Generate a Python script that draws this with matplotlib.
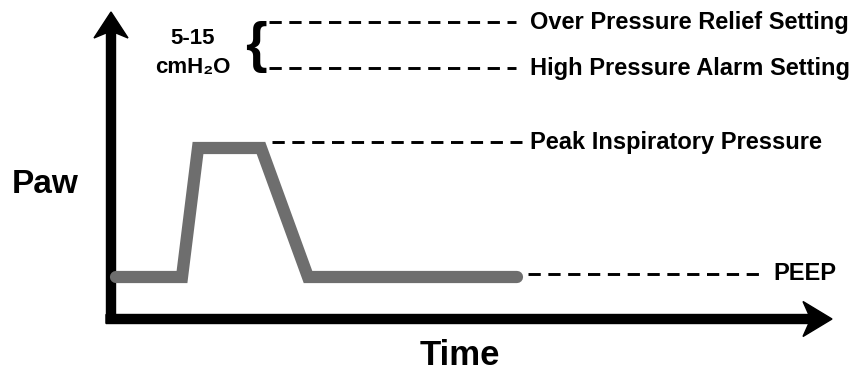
import matplotlib
matplotlib.use("Agg")
import matplotlib.pyplot as plt

# schematic airway pressure waveform (x = time units, y = pressure units, y up)
wave_t = [116, 182, 198, 261, 308, 517]
wave_p = [96, 96, 225, 225, 96, 96]

# reference levels and their labels
level_names = ["Over Pressure Relief Setting", "High Pressure Alarm Setting",
               "Peak Inspiratory Pressure", "PEEP"]
level_p = [351, 305, 231, 99]
level_start = [269, 269, 272, 528]
level_end = [516, 516, 522, 763]
level_text_x = [530, 530, 530, 773]

range_top = "5-15"
range_unit = "cmH\u2082O"

FONT = ["Liberation Sans", "DejaVu Sans"]

fig = plt.figure(figsize=(8.55, 3.73), dpi=100)
ax = fig.add_axes([0, 0, 1, 1])
ax.set_xlim(0, 855)
ax.set_ylim(0, 373)
ax.axis("off")

# axes arrows
ax.arrow(111, 50, 0, 311, width=9, head_width=34, head_length=26, overhang=0.2,
         length_includes_head=True, fc="black", ec="black")
ax.arrow(106, 54, 726, 0, width=9, head_width=35, head_length=29, overhang=0.2,
         length_includes_head=True, fc="black", ec="black")

# waveform
ax.plot(wave_t, wave_p, color="#6e6e6e", lw=8.8,
        solid_capstyle="round", solid_joinstyle="miter")

# dashed reference lines + labels
for name, p, x0, x1, tx in zip(level_names, level_p, level_start, level_end, level_text_x):
    ax.plot([x0, x1], [p, p], color="black", lw=2.1, dashes=(4.2, 2.6))
    ax.text(tx, p, name, fontsize=17, fontweight="bold", family=FONT,
            ha="left", va="center")

# range annotation
ax.text(256, 326, "{", fontsize=40, fontweight="bold", family=FONT,
        ha="center", va="center")
ax.text(193, 334, range_top, fontsize=16, fontweight="bold", family=FONT,
        ha="center", va="center")
ax.text(193, 306, range_unit, fontsize=16, fontweight="bold", family=FONT,
        ha="center", va="center")

# axis titles
ax.text(12, 180, "Paw", fontsize=24, fontweight="bold", family=FONT,
        ha="left", va="baseline")
ax.text(460, 8, "Time", fontsize=25, fontweight="bold", family=FONT,
        ha="center", va="baseline")

fig.savefig("out.png", dpi=100, facecolor="white")
